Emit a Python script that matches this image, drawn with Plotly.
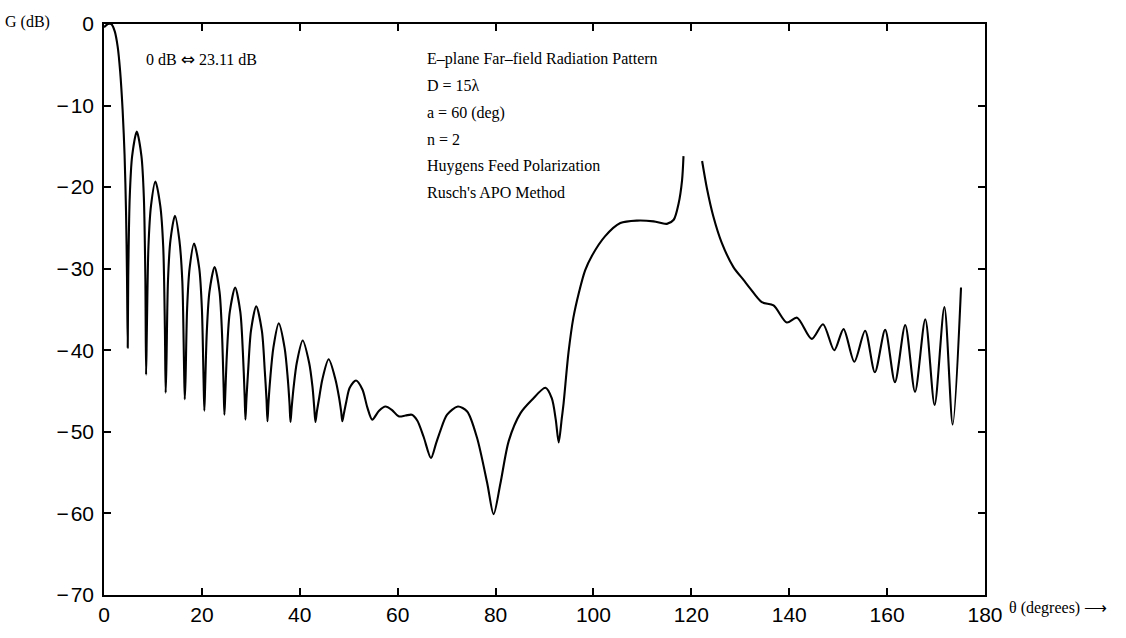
import plotly.graph_objects as go

# ---- data (theta in degrees, gain in dB) ----
theta_deg = [
    0, 0.8, 1.5, 2.2, 2.8, 3.3, 3.8, 4.2, 4.5, 4.7, 4.85,
    4.95, 5.26, 5.75, 6.7, 7.65, 8.14, 8.45, 8.6,
    8.76, 9.08, 9.6, 10.5, 11.5, 12.1, 12.44, 12.6,
    12.76, 13.07, 13.58, 14.5, 15.4, 16.0, 16.34, 16.5,
    16.66, 16.98, 17.5, 18.4, 19.45, 20.0, 20.34, 20.5,
    20.66, 21.0, 21.55, 22.6, 23.6, 24.1, 24.44, 24.6,
    24.77, 25.12, 25.7, 26.8, 27.85, 28.38, 28.73, 28.9,
    29.1, 29.44, 30.03, 31.1, 32.25, 32.86, 33.2, 33.4,
    33.6, 33.96, 34.6, 35.7, 36.9, 37.55, 37.9, 38.1,
    38.35, 38.75, 39.4, 40.6, 41.9, 42.6, 42.95, 43.2,
    43.5, 44.0, 44.6, 45.9, 47.3, 48.0, 48.45, 48.7,
    49.0, 49.5, 50.2, 51.5, 52.8, 53.8, 54.8, 56.2, 57.5, 58.8,
    60.2, 61.6, 62.9, 64.0, 65.3, 66.8, 67.8, 68.7, 70.1, 72.3,
    74.2, 76.2, 78.3, 79.6, 81.0, 82.7, 85.1, 87.4, 90.2, 91.5,
    92.3, 92.9, 93.5, 93.9, 94.9, 95.9, 97.0, 98.3, 99.7, 102.4,
    105.5, 108.9, 112.3, 115.0, 116.4, 117.4, 118.1, 118.4,
    None,
    122.2, 123.2, 124.5, 126.2, 128.6, 130.7, 132.0, 134.4, 136.8, 139.5,
    141.6, 144.6, 146.9, 149.2, 151.1, 153.3, 155.5, 157.5, 159.6, 161.6,
    163.7, 165.7, 167.8, 169.7, 171.7, 173.4, 175.1,
]
gain_db = [
    -0.4, 0.0, 0.0, -0.9, -2.8, -5.8, -10.5, -16.0, -23.0, -31.0, -39.7,
    -31.2, -21.2, -16.2, -13.2, -16.2, -21.2, -31.2, -43.0,
    -37.3, -27.3, -22.3, -19.3, -22.3, -27.3, -37.3, -45.2,
    -41.5, -31.5, -26.5, -23.5, -26.5, -31.5, -41.5, -46.0,
    -43.5, -34.9, -29.9, -26.9, -29.9, -34.9, -43.5, -47.4,
    -44.5, -37.8, -32.8, -29.8, -32.8, -37.8, -44.5, -47.9,
    -45.5, -40.3, -35.3, -32.3, -35.3, -40.3, -45.5, -48.5,
    -46.0, -42.6, -37.6, -34.6, -37.6, -42.6, -46.0, -48.7,
    -46.5, -43.5, -39.7, -36.7, -39.7, -43.5, -46.5, -48.8,
    -47.0, -44.5, -41.5, -38.8, -41.5, -44.5, -47.0, -48.8,
    -47.5, -45.7, -43.6, -41.1, -43.6, -45.7, -47.5, -48.7,
    -47.8, -46.3, -44.6, -43.7, -44.8, -47.0, -48.5, -47.4, -46.9, -47.3,
    -48.1, -48.0, -47.9, -48.6, -50.6, -53.2, -51.5, -49.9, -47.9, -46.9,
    -47.5, -50.7, -56.3, -60.1, -56.3, -51.1, -47.7, -46.1, -44.6, -45.9,
    -48.5, -51.3, -48.5, -46.5, -40.3, -36.0, -33.0, -30.2, -28.4, -26.0,
    -24.4, -24.1, -24.2, -24.5, -24.0, -22.0, -19.2, -16.2,
    None,
    -16.8, -20.2, -23.6, -26.8, -29.8, -31.4, -32.4, -34.1, -34.5, -36.6,
    -36.0, -38.6, -36.8, -40.0, -37.4, -41.4, -37.6, -42.7, -37.5, -43.9,
    -36.9, -45.1, -36.2, -46.7, -34.7, -49.1, -32.3,
]
assert len(theta_deg) == len(gain_db)

x_ticks = [0, 20, 40, 60, 80, 100, 120, 140, 160, 180]
y_ticks = [0, -10, -20, -30, -40, -50, -60, -70]
y_tick_text = ["0", "\u2212\u200a10", "\u2212\u200a20", "\u2212\u200a30", "\u2212\u200a40",
               "\u2212\u200a50", "\u2212\u200a60", "\u2212\u200a70"]

info_lines = [
    "E\u2013plane Far\u2013field Radiation Pattern",
    "D = 15\u03bb",
    "a = 60 (deg)",
    "n = 2",
    "Huygens Feed Polarization",
    "Rusch's APO Method",
]
info_y = [-4.3, -7.6, -10.9, -14.2, -17.4, -20.6]

serif = "Liberation Serif, Times New Roman, serif"
sans = "Liberation Sans, Arial, sans-serif"

fig = go.Figure()
fig.add_trace(go.Scatter(
    x=theta_deg, y=gain_db, mode="lines",
    line=dict(color="black", width=2.1, shape="spline", smoothing=0.8),
    connectgaps=False, showlegend=False, hoverinfo="skip",
))

annotations = [
    dict(x=8.1, y=-4.3, xref="x", yref="y",
         text="0 dB <span style='font-family:DejaVu Sans;font-size:17px'>\u21d4</span> 23.11 dB",
         showarrow=False, xanchor="left", yanchor="middle",
         font=dict(family=serif, size=16, color="black")),
    dict(x=-0.1145, y=1.003, xref="paper", yref="paper", text="G (dB)",
         showarrow=False, xanchor="left", yanchor="middle",
         font=dict(family=serif, size=16, color="black")),
    dict(x=1.025, y=-0.022, xref="paper", yref="paper", text="\u03b8 (degrees) \u27f6",
         showarrow=False, xanchor="left", yanchor="middle",
         font=dict(family=serif, size=16, color="black")),
]
for txt, yy in zip(info_lines, info_y):
    annotations.append(dict(x=65.6, y=yy, xref="x", yref="y", text=txt,
                            showarrow=False, xanchor="left", yanchor="middle",
                            font=dict(family=serif, size=16, color="black")))

fig.update_layout(
    width=1126, height=638,
    margin=dict(l=104, r=141, t=16, b=37),
    paper_bgcolor="white", plot_bgcolor="white",
    annotations=annotations,
    xaxis=dict(range=[0, 180], tickvals=x_ticks, ticktext=[str(v) for v in x_ticks],
               ticks="inside", ticklen=7, tickwidth=1.5, tickcolor="black",
               showline=True, linecolor="black", linewidth=1.6, mirror="ticks",
               showgrid=False, zeroline=False,
               tickfont=dict(family=sans, size=21, color="black")),
    yaxis=dict(range=[-70, 0], tickvals=y_ticks, ticktext=y_tick_text,
               ticks="inside", ticklen=7, tickwidth=1.5, tickcolor="black",
               showline=True, linecolor="black", linewidth=1.6, mirror="ticks",
               showgrid=False, zeroline=False, ticklabelstandoff=4,
               tickfont=dict(family=sans, size=21, color="black")),
)

fig.write_html("out.html")
